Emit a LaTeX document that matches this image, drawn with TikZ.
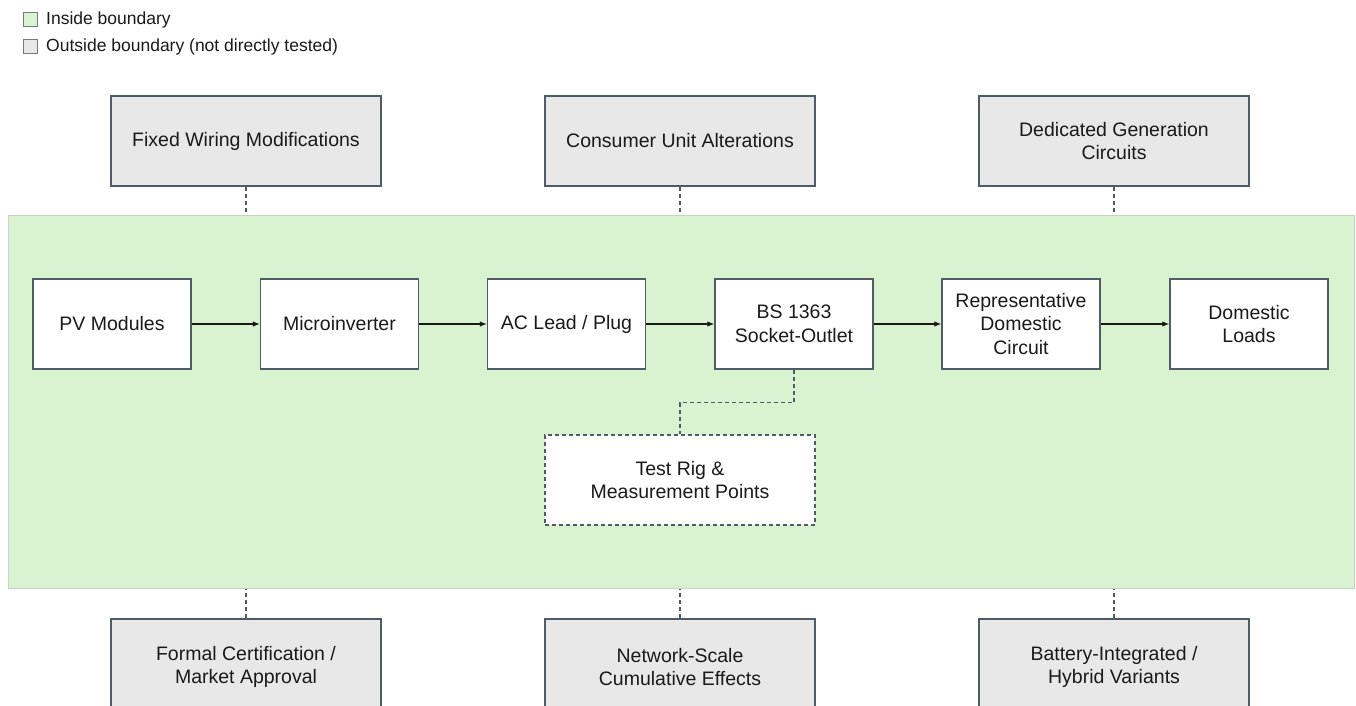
\documentclass[tikz,border=0pt]{standalone}
\usepackage{fontspec}
\setmainfont{Liberation Sans}
\usetikzlibrary{arrows.meta}
\definecolor{greenfill}{HTML}{D9F2D0}
\definecolor{greenedge}{HTML}{C4D4C0}
\definecolor{grayfill}{HTML}{E8E8E8}
\definecolor{boxedge}{HTML}{4F5B66}
\definecolor{txt}{HTML}{1A1A1A}
\begin{document}
\begin{tikzpicture}[x=1pt,y=-1pt,
  boxfont/.style={font=\fontsize{19.5}{23.5}\selectfont},
  flowbox/.style={draw=boxedge,line width=1.3pt,fill=white,minimum width=158pt,minimum height=90pt,align=center,boxfont,text=txt,inner sep=2pt},
  outbox/.style={draw=boxedge,line width=1.3pt,fill=grayfill,minimum width=270pt,minimum height=90pt,align=center,boxfont,text=txt,inner sep=2pt},
  testbox/.style={draw=boxedge,line width=1.3pt,dash pattern=on 4pt off 3pt,fill=white,minimum width=270pt,minimum height=90pt,align=center,boxfont,text=txt,inner sep=2pt},
  flow/.style={draw=txt,line width=1.1pt,-{Latex[length=7pt,width=5.5pt]}},
  dashlink/.style={draw=boxedge,line width=1.3pt,dash pattern=on 4pt off 3pt},
  legsq/.style={draw=boxedge!80,line width=1pt,minimum width=14pt,minimum height=14pt,inner sep=0pt},
  legtxt/.style={anchor=west,font=\fontsize{17.5}{20}\selectfont,text=txt,inner sep=0pt}
]
\useasboundingbox (0,0) rectangle (1356,706);
\clip (0,0) rectangle (1356,706);
\fill[white] (0,0) rectangle (1356,706);

% legend
\node[legsq,fill=greenfill] (lg1) at (30,20) {};
\node[legtxt] (lt1) at (46,20) {Inside boundary};
\node[legsq,fill=grayfill] (lg2) at (30,47) {};
\node[legtxt] (lt2) at (46,47) {Outside boundary (not directly tested)};

% boundary region
\node[draw=greenedge,line width=1pt,fill=greenfill,minimum width=1346pt,minimum height=373pt,inner sep=0pt] (zone) at (681,401.5) {};

% top outside boxes
\node[outbox] (t1) at (246,141) {Fixed Wiring Modifications};
\node[outbox] (t2) at (680,141) {Consumer Unit Alterations};
\node[outbox] (t3) at (1114,141) {Dedicated Generation\\Circuits};

% bottom outside boxes
\node[outbox,minimum height=96pt] (b1) at (246,667) {Formal Certification /\\Market Approval};
\node[outbox,minimum height=96pt] (b2) at (680,667) {Network-Scale\\Cumulative Effects};
\node[outbox,minimum height=96pt] (b3) at (1114,667) {Battery-Integrated /\\Hybrid Variants};

% main flow
\node[flowbox] (pv) at (112,324) {PV Modules};
\node[flowbox] (mi) at (339.5,324) {Microinverter};
\node[flowbox] (ac) at (566.5,324) {AC Lead / Plug};
\node[flowbox] (bs) at (794,324) {BS 1363\\Socket-Outlet};
\node[flowbox] (rd) at (1021,324) {Representative\\Domestic\\Circuit};
\node[flowbox] (dl) at (1249,324) {Domestic\\Loads};

\node[testbox] (tr) at (680,480) {Test Rig \&\\Measurement Points};

\draw[flow] (pv) -- (mi);
\draw[flow] (mi) -- (ac);
\draw[flow] (ac) -- (bs);
\draw[flow] (bs) -- (rd);
\draw[flow] (rd) -- (dl);

\draw[dashlink] (bs.south) -- ++(0,33) -| (tr.north);

\draw[dashlink] (t1.south) -- (t1.south |- zone.north);
\draw[dashlink] (t2.south) -- (t2.south |- zone.north);
\draw[dashlink] (t3.south) -- (t3.south |- zone.north);
\draw[dashlink] (b1.north) -- (b1.north |- zone.south);
\draw[dashlink] (b2.north) -- (b2.north |- zone.south);
\draw[dashlink] (b3.north) -- (b3.north |- zone.south);
\end{tikzpicture}
\end{document}
